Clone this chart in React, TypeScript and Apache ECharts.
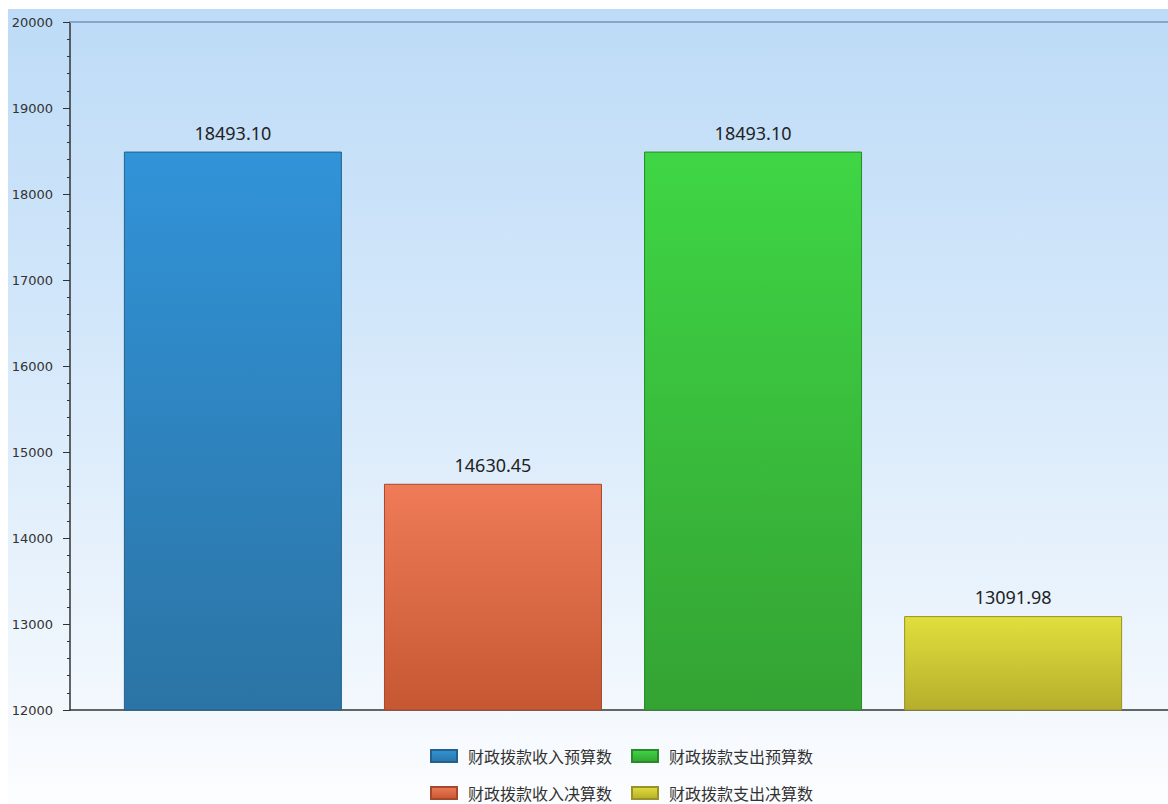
import React, { useEffect, useRef } from "react";
import * as echarts from "echarts";

const seriesNames = ["财政拨款收入预算数", "财政拨款收入决算数", "财政拨款支出预算数", "财政拨款支出决算数"];
const seriesValues = [18493.1, 14630.45, 18493.1, 13091.98];
const legendRow1 = ["财政拨款收入预算数", "财政拨款支出预算数"];
const legendRow2 = ["财政拨款收入决算数", "财政拨款支出决算数"];
const yMin = 12000;
const yMax = 20000;
const yInterval = 1000;

const topColors = ["#3193d8", "#ef7b58", "#3fd645", "#e0df3d"];
const bottomColors = ["#2b74a5", "#c65733", "#34a333", "#b6ae2c"];
const borderColors = ["#23618c", "#a5482b", "#2a8a2a", "#999327"];

export default function App() {
  const ref = useRef<HTMLDivElement>(null);
  useEffect(() => {
    if (!ref.current) return;
    const chart = echarts.init(ref.current, undefined, { renderer: "svg" });
    const series = seriesNames.map((name, i) => ({
      name,
      type: "bar",
      data: [seriesValues[i]],
      barWidth: 218,
      barGap: "19.3%",
      itemStyle: {
        color: new echarts.graphic.LinearGradient(0, 0, 0, 1, [
          { offset: 0, color: topColors[i] },
          { offset: 1, color: bottomColors[i] },
        ]),
        borderColor: borderColors[i],
        borderWidth: 1,
      },
      label: {
        show: true,
        position: "top",
        distance: 10,
        formatter: (p: any) => Number(p.value).toFixed(2),
        fontFamily: "Noto Sans",
        fontSize: 18,
        color: "#222",
      },
    }));
    const legendCommon = {
      left: 417,
      orient: "horizontal",
      itemWidth: 26,
      itemHeight: 12,
      itemGap: 19,
      icon: "rect",
      textStyle: {
        fontFamily: "Noto Sans CJK SC",
        fontSize: 16,
        color: "#333",
        padding: [0, 0, 0, 6],
      },
    };
    chart.setOption({
      animation: false,
      backgroundColor: new echarts.graphic.LinearGradient(0, 0, 0, 1, [
        { offset: 0, color: "#bddbf7" },
        { offset: 0.4, color: "#d3e7fa" },
        { offset: 0.85, color: "#f1f7fd" },
        { offset: 1, color: "#fcfdff" },
      ]),
      legend: [
        { ...legendCommon, top: 734, data: legendRow1 },
        { ...legendCommon, top: 771, data: legendRow2 },
      ],
      grid: { left: 62, top: 13, right: 0, bottom: 94, containLabel: false },
      xAxis: [
        {
          type: "category",
          data: [""],
          axisTick: { show: false },
          axisLabel: { show: false },
          axisLine: { lineStyle: { color: "#333", width: 1.5 } },
        },
        {
          type: "category",
          position: "top",
          data: [""],
          axisTick: { show: false },
          axisLabel: { show: false },
          axisLine: { lineStyle: { color: "#86a8c8", width: 2 } },
        },
      ],
      yAxis: {
        type: "value",
        min: yMin,
        max: yMax,
        interval: yInterval,
        axisLine: { show: true, lineStyle: { color: "#333", width: 1.5 } },
        axisTick: { show: true, length: 7, lineStyle: { color: "#333" } },
        minorTick: { show: true, splitNumber: 5, length: 3, lineStyle: { color: "#333" } },
        splitLine: { show: false },
        axisLabel: {
          fontFamily: "DejaVu Sans",
          fontSize: 13,
          color: "#333",
          margin: 17,
          formatter: (v: number) => String(v),
        },
      },
      series,
    });
    return () => chart.dispose();
  }, []);
  return (
    <div style={{ position: "absolute", left: 8, top: 9, width: 1160, height: 795, overflow: "hidden" }}>
      <div ref={ref} style={{ width: 1168, height: 795 }} />
    </div>
  );
}
